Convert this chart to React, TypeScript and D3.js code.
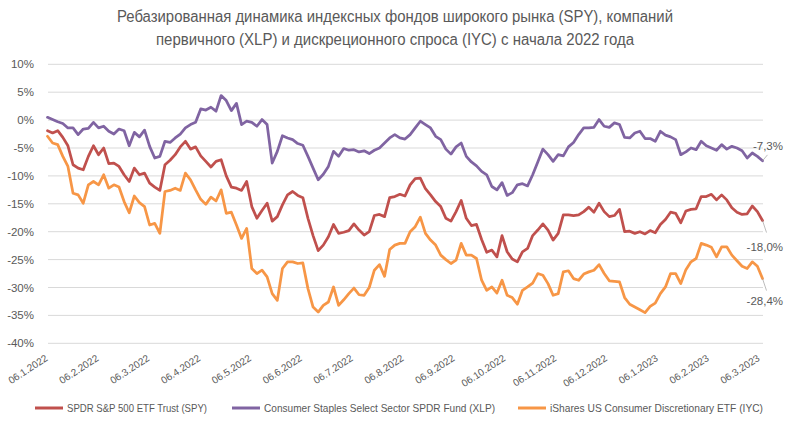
import React from 'react';
import * as d3 from 'd3';

// ---------- DATA ----------
const monthLabels = [
  '06.1.2022', '06.2.2022', '06.3.2022', '06.4.2022', '06.5.2022', '06.6.2022', '06.7.2022',
  '06.8.2022', '06.9.2022', '06.10.2022', '06.11.2022', '06.12.2022', '06.1.2023', '06.2.2023', '06.3.2023',
];
const yTicks = [10, 5, 0, -5, -10, -15, -20, -25, -30, -35, -40];

const spy = [
  -1.9, -2.3, -1.9, -3.1, -4.6, -8.0, -8.6, -8.9, -6.5, -4.6,
  -6.2, -5.0, -7.8, -7.7, -8.3, -9.8, -11.0, -8.6, -9.8, -9.5,
  -11.3, -12.0, -12.6, -8.0, -7.2, -6.2, -4.8, -3.8, -5.2, -4.8,
  -6.4, -7.4, -8.4, -7.4, -7.1, -10.0, -12.0, -12.2, -12.6, -11.0,
  -15.5, -17.6, -16.2, -14.9, -18.1, -17.3, -15.2, -13.4, -12.8, -13.5,
  -13.9, -17.6, -20.7, -23.4, -22.4, -20.9, -18.7, -20.3, -20.1, -19.8,
  -18.6, -19.7, -20.6, -20.0, -17.1, -16.9, -17.3, -13.9, -13.7, -13.3,
  -13.6, -11.6, -10.5, -10.4, -12.3, -13.4, -14.6, -15.5, -17.6, -18.1,
  -16.4, -14.4, -17.6, -18.9, -18.7, -21.4, -23.7, -23.3, -24.5, -20.7,
  -23.6, -24.9, -25.4, -23.6, -23.0, -20.7, -19.7, -18.6, -19.7, -21.5,
  -20.3, -17.0, -17.0, -17.1, -17.0, -16.4, -15.6, -16.5, -14.9, -16.4,
  -17.3, -17.1, -16.0, -20.0, -19.9, -20.3, -20.0, -20.4, -19.8, -20.2,
  -18.7, -17.8, -16.5, -16.7, -18.4, -16.3, -16.0, -15.9, -13.7, -13.7,
  -13.3, -14.3, -13.4, -14.3, -15.7, -16.5, -16.9, -16.8, -15.4, -16.4,
  -18.0,
];

const xlp = [
  0.5, 0.1, -0.3, -0.6, -1.4, -1.4, -2.6, -1.6, -1.5, -0.4,
  -1.4, -1.1, -2.0, -2.5, -1.6, -1.9, -4.6, -2.2, -3.0, -1.8,
  -4.7, -6.8, -6.5, -3.8, -4.0, -3.2, -2.5, -1.4, -0.8, -0.4,
  2.0, 1.8, 2.3, 1.6, 4.4, 3.5, 1.7, 3.0, -0.8, -0.2,
  -0.4, -1.1, 0.1, -0.8, -7.7, -5.6, -2.8, -3.2, -3.5, -4.2,
  -4.5, -6.5, -8.6, -10.7, -9.7, -8.3, -5.6, -6.5, -5.1, -5.4,
  -5.3, -5.7, -5.5, -6.0, -5.4, -5.0, -4.1, -3.2, -2.6, -3.2,
  -3.4, -2.6, -1.4, -0.2, -0.8, -1.4, -2.9, -3.5, -5.2, -6.1,
  -4.8, -4.1, -6.5, -7.5, -8.2, -9.2, -9.8, -11.9, -12.5, -11.2,
  -13.5, -13.0, -11.6, -11.4, -11.8, -9.8, -7.5, -5.2, -6.2, -7.4,
  -6.2, -6.4, -4.8, -4.0, -2.6, -1.4, -1.4, -1.3, 0.1, -1.1,
  -1.3, -0.5, -0.8, -3.1, -3.2, -2.3, -2.0, -3.3, -3.3, -3.8,
  -2.0, -2.7, -3.0, -3.5, -6.2, -5.7, -5.0, -5.3, -3.8, -4.6,
  -5.0, -5.4, -4.4, -5.2, -4.7, -5.0, -5.5, -6.8, -5.9, -6.5,
  -7.3,
];

const iyc = [
  -2.9, -4.1, -4.4, -6.5, -8.3, -13.1, -13.4, -14.9, -11.6, -11.0,
  -11.6, -9.8, -12.2, -11.6, -12.0, -14.6, -16.6, -13.6, -14.8, -15.5,
  -18.8, -18.5, -20.3, -12.8, -12.6, -12.2, -12.6, -9.5, -10.7, -12.5,
  -14.2, -15.1, -13.8, -14.5, -12.5, -16.7, -16.5, -18.8, -21.2, -19.4,
  -26.6, -27.5, -26.9, -28.1, -31.1, -32.3, -26.6, -25.4, -25.4, -25.7,
  -25.6, -30.2, -33.5, -34.4, -33.2, -32.6, -29.9, -33.2, -32.2, -31.1,
  -30.1, -31.3, -31.4, -30.0, -26.9, -25.9, -28.0, -23.2, -22.4, -22.1,
  -22.1, -20.0, -19.1, -17.4, -20.3, -21.5, -22.4, -24.2, -25.0, -25.7,
  -25.1, -22.1, -24.2, -24.2, -24.8, -28.7, -30.5, -29.9, -31.0, -28.7,
  -31.4, -31.8, -33.0, -30.5, -29.9, -29.2, -27.5, -27.8, -29.3, -31.4,
  -31.1, -27.2, -27.0, -28.4, -28.7, -27.6, -27.2, -26.9, -25.9, -27.5,
  -28.8, -28.9, -29.0, -31.8, -33.0, -33.5, -34.0, -34.5, -33.4, -32.8,
  -31.1, -29.9, -27.5, -27.5, -29.3, -26.8, -25.4, -24.8, -22.1, -22.4,
  -22.8, -24.5, -22.7, -22.7, -24.2, -25.2, -26.2, -26.6, -25.4, -26.2,
  -28.4,
];

const seriesNames = [
  'SPDR S&P 500 ETF Trust (SPY)',
  'Consumer Staples Select Sector SPDR Fund (XLP)',
  'iShares US Consumer Discretionary ETF (IYC)',
];
const titleLines = [
  'Ребазированная динамика индексных фондов широкого рынка (SPY), компаний',
  'первичного (XLP) и дискреционного спроса (IYC) с начала 2022 года',
];

// ---------- STYLE / LAYOUT ----------
const W = 787;
const H = 425;
const colors = ['#C0504D', '#8064A2', '#F79646'];
const textColor = '#595959';
const gridColor = '#D9D9D9';
const font = '"Liberation Sans", Arial, sans-serif';

const series = [spy, xlp, iyc];
// label offsets relative to last point
const endLabelCfg = [
  { ldx: 4, ldy: 12, ty: 30 },
  { ldx: 5, ldy: -6, ty: -11 },
  { ldx: 4, ldy: 12, ty: 26 },
];
const legendCfg = [
  { x: 35, w: 140 },
  { x: 232, w: 231 },
  { x: 518, w: 213 },
];

export default function App() {
  const n = spy.length;
  const x = d3.scaleLinear().domain([0, n - 1]).range([47.5, 762.5]);
  const y = d3.scaleLinear().domain([-40, 10]).range([343.3, 64.3]);
  const xLab = d3.scalePoint<string>().domain(monthLabels).range([48.5, 760.5]);
  const line = d3
    .line<number>()
    .x((_, i) => x(i))
    .y((d) => y(d));
  const fmtPct = (v: number) => d3.format('.1f')(v).replace('.', ',').replace('−', '-') + '%';

  return (
    <svg
      width={W}
      height={H}
      style={{ position: 'absolute', left: 0, top: 0, background: '#fff' }}
      fontFamily={font}
    >
      <rect x={0} y={0} width={W} height={H} fill="#fff" />
      {titleLines.map((t, i) => (
        <text
          key={i}
          x={395}
          y={22 + i * 23}
          textAnchor="middle"
          fontSize={16}
          fill={textColor}
          textLength={i === 0 ? 556 : 478}
          lengthAdjust="spacingAndGlyphs"
        >
          {t}
        </text>
      ))}
      {yTicks.map((t) => (
        <g key={t}>
          <line x1={48} x2={763} y1={y(t)} y2={y(t)} stroke={gridColor} strokeWidth={1} />
          <text x={34} y={y(t)} dy="0.35em" textAnchor="end" fontSize={11.5} fill={textColor}>
            {t}%
          </text>
        </g>
      ))}
      {monthLabels.map((m) => (
        <text
          key={m}
          transform={`translate(${xLab(m)},360) rotate(-33)`}
          textAnchor="end"
          fontSize={10}
          fill={textColor}
        >
          {m}
        </text>
      ))}
      {series.map((s, k) => (
        <path
          key={k}
          d={line(s) || ''}
          fill="none"
          stroke={colors[k]}
          strokeWidth={2.75}
          strokeLinejoin="round"
          strokeLinecap="round"
        />
      ))}
      {series.map((s, k) => {
        const ex = x(n - 1);
        const ey = y(s[n - 1]);
        const c = endLabelCfg[k];
        return (
          <g key={k}>
            <line x1={ex} y1={ey} x2={ex + c.ldx} y2={ey + c.ldy} stroke="#A6A6A6" strokeWidth={0.75} />
            <text x={783} y={ey + c.ty} textAnchor="end" fontSize={11.5} fill={textColor}>
              {fmtPct(s[n - 1])}
            </text>
          </g>
        );
      })}
      {seriesNames.map((name, k) => (
        <g key={name}>
          <line
            x1={legendCfg[k].x}
            x2={legendCfg[k].x + 28}
            y1={408}
            y2={408}
            stroke={colors[k]}
            strokeWidth={3}
          />
          <text
            x={legendCfg[k].x + 32}
            y={408}
            dy="0.35em"
            fontSize={10.5}
            fill={textColor}
            textLength={legendCfg[k].w}
            lengthAdjust="spacingAndGlyphs"
          >
            {name}
          </text>
        </g>
      ))}
    </svg>
  );
}
